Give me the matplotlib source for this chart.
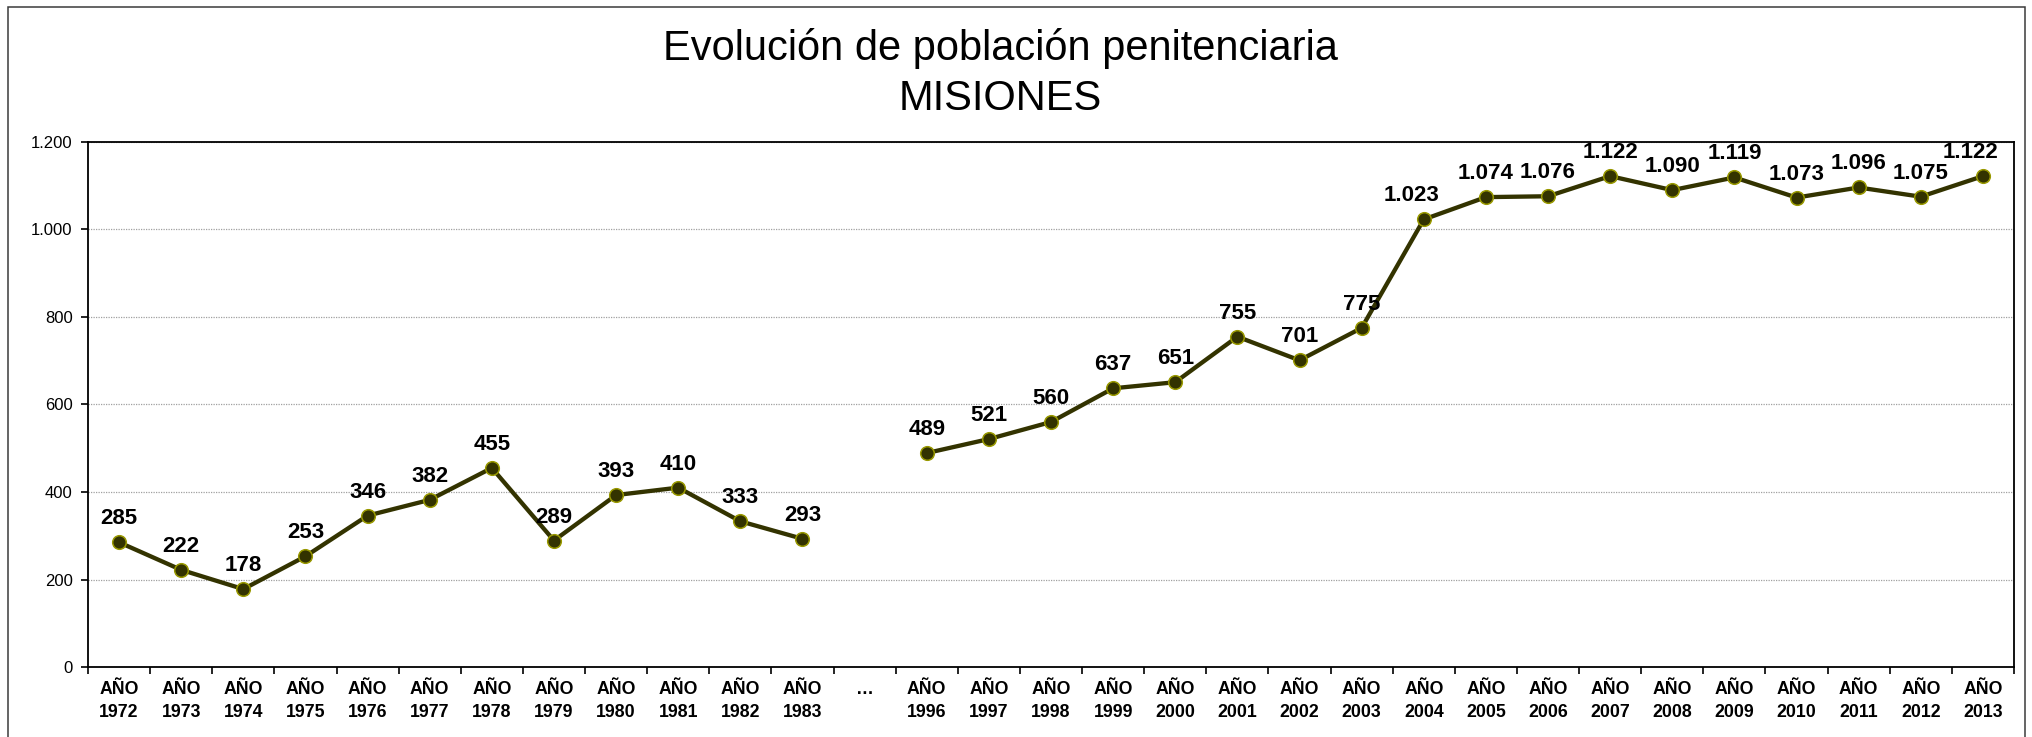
import numpy as np
import matplotlib
matplotlib.use("Agg")
import matplotlib.pyplot as plt
from matplotlib.patches import Rectangle
from matplotlib.ticker import FuncFormatter, FixedLocator

plt.rcParams['font.family'] = ['Liberation Sans', 'DejaVu Sans']

years = ["1972", "1973", "1974", "1975", "1976", "1977", "1978", "1979",
         "1980", "1981", "1982", "1983", "...",
         "1996", "1997", "1998", "1999", "2000", "2001", "2002", "2003",
         "2004", "2005", "2006", "2007", "2008", "2009", "2010", "2011",
         "2012", "2013"]
poblacion = [285, 222, 178, 253, 346, 382, 455, 289, 393, 410, 333, 293, None,
             489, 521, 560, 637, 651, 755, 701, 775,
             1023, 1074, 1076, 1122, 1090, 1119, 1073, 1096, 1075, 1122]
y_ticks = [0, 200, 400, 600, 800, 1000, 1200]

def miles(v):
    return f"{int(round(v)):,}".replace(",", ".")

W, H = 2033, 737
fig = plt.figure(figsize=(W / 100, H / 100), dpi=100)

# outer chart frame
fig.patches.append(Rectangle((8 / W, -0.05), (2025 - 8) / W, 1.05 - 7 / H,
                             transform=fig.transFigure, fill=False,
                             edgecolor="#3a3a3a", linewidth=1.1))

ax = fig.add_axes([88 / W, 1 - 667 / H, (2014 - 88) / W, (667 - 142) / H])

x = np.arange(len(years))
y = np.array([np.nan if v is None else v for v in poblacion], dtype=float)

ax.plot(x, y, color="#333300", linewidth=3.1, marker="o", markersize=9.8,
        markerfacecolor="#333300", markeredgecolor="#999900",
        markeredgewidth=1.1, zorder=3, clip_on=False)

# value labels above each point
shift = {21: -9, 30: -9}
for i, v in enumerate(poblacion):
    if v is None:
        continue
    ax.annotate(miles(v), (x[i], v), xytext=(shift.get(i, 0), 13),
                textcoords="offset points", ha="center", va="baseline",
                fontsize=16, fontweight="bold", color="black", zorder=4,
                annotation_clip=False)

ax.set_xlim(-0.5, len(years) - 0.5)
ax.set_ylim(0, 1200)
ax.yaxis.set_major_locator(FixedLocator(y_ticks))
ax.yaxis.set_major_formatter(FuncFormatter(lambda v, p: miles(v)))
ax.grid(axis="y", color="#a0a0a0", linestyle=(0, (1, 1)), linewidth=0.9)
ax.set_axisbelow(True)

ax.set_xticks(x)
ax.set_xticklabels([("…\n " if yr == "..." else f"AÑO\n{yr}") for yr in years],
                   fontsize=12.8, fontweight="bold", linespacing=1.45)
ax.tick_params(axis="x", which="major", length=0, pad=10)
ax.set_xticks(np.arange(-0.5, len(years) + 0.5, 1), minor=True)
ax.tick_params(axis="x", which="minor", length=5, width=1.2, color="black")
ax.tick_params(axis="y", labelsize=12, length=5, width=1.2, pad=6)

for s in ax.spines.values():
    s.set_color("black")
    s.set_linewidth(1.3)

fig.text(1000 / W, 1 - 60 / H, "Evolución de población penitenciaria",
         ha="center", va="baseline", fontsize=30)
fig.text(1000 / W, 1 - 110 / H, "MISIONES",
         ha="center", va="baseline", fontsize=30)

fig.savefig("out.png", dpi=100)
